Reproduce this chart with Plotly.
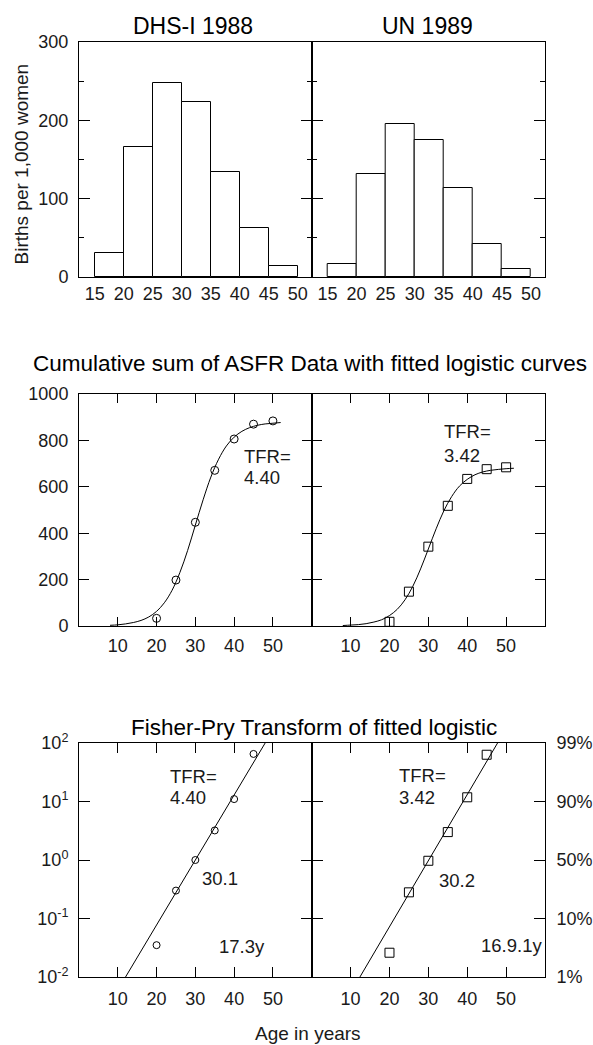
import plotly.graph_objects as go
from plotly.subplots import make_subplots

# Age-specific fertility rates (births per 1,000 women), by 5-year age group
age_start = [15, 20, 25, 30, 35, 40, 45]
asfr_dhs = [31, 166, 248, 224, 134, 62, 14]
asfr_un = [17, 131, 195, 175, 114, 42, 10]
hist_ticks = [15, 20, 25, 30, 35, 40, 45, 50]

# Cumulative ASFR at the upper age of each group
age_end = [20, 25, 30, 35, 40, 45, 50]
cum_dhs = [33, 198, 447, 671, 806, 870, 884]
cum_un = [18, 148, 342, 518, 634, 676, 684]

# Fitted logistic curves
curve_age = [8, 10, 12, 14, 16, 18, 20, 22, 24, 26, 28, 30,
             32, 34, 36, 38, 40, 42, 44, 46, 48, 50, 52]
curve_dhs = [3, 5, 9, 15, 24, 39, 63, 100, 154, 230, 325, 435,
             544, 642, 719, 776, 814, 839, 855, 865, 871, 874, 877]
curve_un = [2, 4, 6, 10, 17, 27, 45, 72, 113, 171, 246, 332,
            419, 497, 558, 603, 632, 652, 664, 671, 675, 678, 680]

# Fisher-Pry transform F/(1-F) of the data, and the fitted straight lines
fp_age = [20, 25, 30, 35, 40, 45]
fp_dhs = [0.035, 0.30, 1.0, 3.2, 11, 65]
fp_un = [0.026, 0.28, 0.97, 3.0, 11.8, 63]
fp_line_age_dhs = [12.0, 48.0]
fp_line_age_un = [12.4, 47.8]
fp_line_val = [0.01, 100]

age_ticks = [10, 20, 30, 40, 50]
log_ticks = [0.01, 0.1, 1, 10, 100]
log_text = ["10<sup>-2</sup>", "10<sup>-1</sup>", "10<sup>0</sup>", "10<sup>1</sup>", "10<sup>2</sup>"]
pct_text = ["1%", "10%", "50%", "90%", "99%"]

W, H = 593, 1045
FONT = "Liberation Sans, Arial, sans-serif"
INK = "#1a1a1a"


def px(x):
    return x / W


def py(y):
    return 1 - y / H


fig = make_subplots(rows=3, cols=2, horizontal_spacing=0, vertical_spacing=0.05)

# ---- histograms ----
for col, vals in [(1, asfr_dhs), (2, asfr_un)]:
    fig.add_trace(go.Bar(x=age_start, y=vals, width=5, offset=0,
                         marker=dict(color="white", line=dict(color="black", width=1))),
                  row=1, col=col)

# ---- cumulative sums with logistic fits ----
fig.add_trace(go.Scatter(x=curve_age, y=curve_dhs, mode="lines", line=dict(color="black", width=1, shape="spline")), row=2, col=1)
fig.add_trace(go.Scatter(x=age_end, y=cum_dhs, mode="markers", cliponaxis=False,
                         marker=dict(symbol="circle-open", size=8, color="black", line=dict(width=1))), row=2, col=1)
fig.add_trace(go.Scatter(x=curve_age, y=curve_un, mode="lines", line=dict(color="black", width=1, shape="spline")), row=2, col=2)
fig.add_trace(go.Scatter(x=age_end, y=cum_un, mode="markers", cliponaxis=False,
                         marker=dict(symbol="square-open", size=9, color="black", line=dict(width=1))), row=2, col=2)

# ---- Fisher-Pry ----
fig.add_trace(go.Scatter(x=fp_line_age_dhs, y=fp_line_val, mode="lines", line=dict(color="black", width=1)), row=3, col=1)
fig.add_trace(go.Scatter(x=fp_age, y=fp_dhs, mode="markers", cliponaxis=False,
                         marker=dict(symbol="circle-open", size=7, color="black", line=dict(width=1))), row=3, col=1)
fig.add_trace(go.Scatter(x=fp_line_age_un, y=fp_line_val, mode="lines", line=dict(color="black", width=1)), row=3, col=2)
fig.add_trace(go.Scatter(x=fp_age, y=fp_un, mode="markers", cliponaxis=False,
                         marker=dict(symbol="square-open", size=9, color="black", line=dict(width=1))), row=3, col=2)

base = dict(showline=True, linecolor="black", linewidth=1, mirror="allticks", ticks="inside",
            tickcolor="black", tickwidth=1, showgrid=False, zeroline=False, automargin=False,
            tickfont=dict(family=FONT, size=18, color=INK))

xl = [px(79), px(311.7)]
xr = [px(311.7), px(545)]
rows_y = [[py(277), py(42)], [py(626), py(394)], [py(977), py(743)]]

hist_x = dict(base, range=[12.3, 52.4], tickvals=hist_ticks, ticks="", ticklabelstandoff=0)
hist_y = dict(base, range=[0, 300], tickvals=[0, 100, 200, 300], ticklen=11, ticklabelstandoff=6,
              minor=dict(tickvals=[50, 150, 250], ticklen=5, ticks="inside", tickcolor="black"))
cum_x = dict(base, range=[0, 60], tickvals=age_ticks, ticklen=9, ticklabelstandoff=3)
cum_y = dict(base, range=[0, 1000], dtick=200, ticklen=10, ticklabelstandoff=6)
fp_x = dict(base, range=[0, 60], tickvals=age_ticks, ticklen=10, ticklabelstandoff=5)
fp_y = dict(base, type="log", range=[-2, 2], tickvals=log_ticks, ticklen=11, ticklabelstandoff=6)

fig.update_layout(
    xaxis=dict(hist_x, domain=xl), yaxis=dict(hist_y, domain=rows_y[0]),
    xaxis2=dict(hist_x, domain=xr), yaxis2=dict(hist_y, domain=rows_y[0], showticklabels=False),
    xaxis3=dict(cum_x, domain=xl), yaxis3=dict(cum_y, domain=rows_y[1]),
    xaxis4=dict(cum_x, domain=xr), yaxis4=dict(cum_y, domain=rows_y[1], showticklabels=False),
    xaxis5=dict(fp_x, domain=xl), yaxis5=dict(fp_y, domain=rows_y[2], ticktext=log_text),
    xaxis6=dict(fp_x, domain=xr),
    yaxis6=dict(fp_y, domain=rows_y[2], ticktext=pct_text, side="right", ticklabelstandoff=7),
)

tfont = dict(family=FONT, size=18.5, color=INK)
hfont = dict(family=FONT, size=22.5, color="black")
notes = [
    # titles and axis titles (paper coordinates)
    dict(text="DHS-I 1988", x=px(193), y=py(26), font=dict(hfont, size=23)),
    dict(text="UN 1989", x=px(427), y=py(26), font=dict(hfont, size=23)),
    dict(text="Cumulative sum of ASFR Data with fitted logistic curves", x=px(310), y=py(364), font=hfont),
    dict(text="Fisher-Pry Transform of fitted logistic", x=px(314), y=py(727.5), font=hfont),
    dict(text="Births per 1,000 women", x=px(20.5), y=py(164), textangle=-90, font=dict(tfont, size=19)),
    dict(text="Age in years", x=px(308), y=py(1033), font=dict(tfont, size=19)),
]
for n in notes:
    n.update(xref="paper", yref="paper", showarrow=False, xanchor="center", yanchor="middle")

labels = [
    ("x3", "y3", 42.0, 730, "TFR=", "left"), ("x3", "y3", 42.0, 638, "4.40", "left"),
    ("x4", "y4", 33.4, 838, "TFR=", "left"), ("x4", "y4", 33.4, 737, "3.42", "left"),
    ("x5", "y5", 22.9, 1.424, "TFR=", "left"), ("x5", "y5", 22.9, 1.06, "4.40", "left"),
    ("x5", "y5", 31.2, -0.308, "30.1", "left"), ("x5", "y5", 35.5, -1.482, "17.3y", "left"),
    ("x6", "y6", 21.9, 1.453, "TFR=", "left"), ("x6", "y6", 21.9, 1.072, "3.42", "left"),
    ("x6", "y6", 32.15, -0.342, "30.2", "left"), ("x6", "y6", 59.8, -1.453, "16.9.1y", "right"),
]
for xr_, yr_, x, y, t, anchor in labels:
    notes.append(dict(text=t, x=x, y=y, xref=xr_, yref=yr_, showarrow=False,
                      xanchor=anchor, yanchor="middle", font=tfont))

fig.update_layout(
    width=W, height=H, template="none", showlegend=False,
    paper_bgcolor="white", plot_bgcolor="white",
    margin=dict(l=0, r=0, t=0, b=0), bargap=0,
    annotations=notes,
)

# page body has an 8px default margin; drop it so the figure sits at the window origin
fig.write_html("out.html", config={"displayModeBar": False},
               post_script="document.body.style.margin='0px';")
